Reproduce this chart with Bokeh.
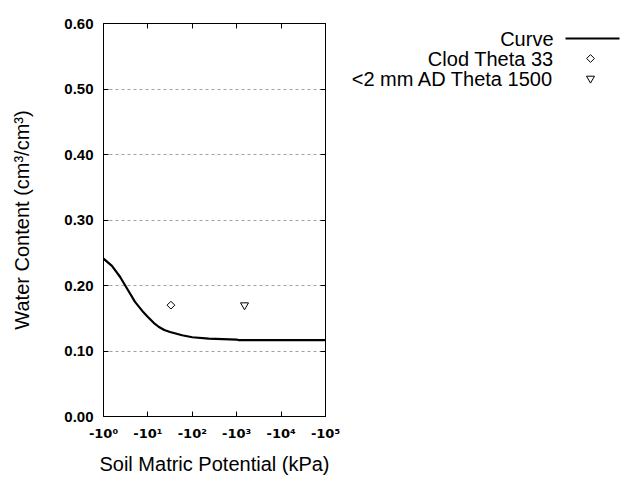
import math
from bokeh.plotting import figure
from bokeh.layouts import row
from bokeh.models import (Range1d, FixedTicker, LinearAxis, LogAxis, NumeralTickFormatter)
from bokeh.core.properties import value
from bokeh.embed import file_html
from bokeh.resources import INLINE

# ---- data ----
curve_h = [1, 1.55, 2.37, 3.63, 5.13, 7.94, 10, 13.5, 17.4, 23.4, 31.6, 58.9, 100, 234, 1000, 1120, 100000]
curve_theta = [0.241, 0.230, 0.213, 0.192, 0.175, 0.159, 0.152, 0.143, 0.137, 0.132, 0.129, 0.124, 0.121, 0.119, 0.1175, 0.1165, 0.1165]
clod_h = [33]
clod_theta = [0.17]
ad_h = [1500]
ad_theta = [0.17]
x_ticks = [1, 10, 100, 1000, 10000, 100000]
x_tick_labels = ["-10\u2070", "-10\u00b9", "-10\u00b2", "-10\u00b3", "-10\u2074", "-10\u2075"]
y_ticks = [0.0, 0.1, 0.2, 0.3, 0.4, 0.5, 0.6]
legend_labels = ["Curve", "Clod Theta 33", "<2 mm AD Theta 1500"]

FONT = "Liberation Sans"

p = figure(width=340, height=480, x_axis_type="log",
           x_range=Range1d(1, 100000), y_range=Range1d(0, 0.6),
           output_backend="svg", toolbar_location=None, title=None,
           min_border_left=103, min_border_right=15,
           min_border_top=23, min_border_bottom=64,
           x_axis_label="Soil Matric Potential (kPa)",
           y_axis_label="Water Content (cm\u00b3/cm\u00b3)")
p.background_fill_color = "white"
p.border_fill_color = "white"
p.outline_line_color = "black"
p.outline_line_width = 1

p.line(curve_h, curve_theta, line_color="black", line_width=2.2)
p.scatter(clod_h, clod_theta, marker="square", angle=math.pi / 4, size=5.5,
          fill_color="white", line_color="black", line_width=1)
p.scatter(ad_h, ad_theta, marker="inverted_triangle", size=8,
          fill_color="white", line_color="black", line_width=1)

xa = p.xaxis[0]
xa.ticker = FixedTicker(ticks=x_ticks, minor_ticks=[])
xa.major_label_overrides = {t: l for t, l in zip(x_ticks, x_tick_labels)}
ya = p.yaxis[0]
ya.ticker = FixedTicker(ticks=y_ticks, minor_ticks=[])
ya.formatter = NumeralTickFormatter(format="0.00")

for ax in (xa, ya):
    ax.major_tick_in = 5
    ax.major_tick_out = 0
    ax.minor_tick_line_color = None
    ax.axis_line_color = "black"
    ax.major_tick_line_color = "black"
    ax.major_label_text_font = FONT
    ax.major_label_text_font_style = "bold"
    ax.major_label_text_font_size = "15px"
    ax.major_label_text_color = "black"
    ax.axis_label_text_font = FONT
    ax.axis_label_text_font_style = "normal"
    ax.axis_label_text_font_size = "20px"
    ax.axis_label_text_color = "black"
xa.major_label_text_font = "DejaVu Sans"
xa.major_label_text_font_size = "13px"
xa.major_label_standoff = 9
xa.axis_label_standoff = 9
ya.major_label_standoff = 10
ya.axis_label_standoff = 28

# mirrored ticks on top and right
top = LogAxis(ticker=FixedTicker(ticks=x_ticks, minor_ticks=[]))
right = LinearAxis(ticker=FixedTicker(ticks=y_ticks, minor_ticks=[]))
for ax in (top, right):
    ax.major_tick_in = 5
    ax.major_tick_out = 0
    ax.minor_tick_line_color = None
    ax.major_label_text_color = None
    ax.major_label_text_font_size = "6px"
    ax.major_label_standoff = 0
    ax.axis_line_color = "black"
p.add_layout(top, "above")
p.add_layout(right, "right")

p.xgrid.grid_line_color = None
p.ygrid.grid_line_color = "#a0a0a0"
p.ygrid.grid_line_dash = "3 3"
p.ygrid.grid_line_width = 1

# ---- legend panel (frame aligned with the chart frame: y 23..416 px) ----
q = figure(width=300, height=480, x_range=Range1d(340, 640), y_range=Range1d(416, 23),
           output_backend="svg", toolbar_location=None, title=None,
           x_axis_location=None, y_axis_location=None,
           min_border_left=0, min_border_right=0,
           min_border_top=23, min_border_bottom=64)
q.outline_line_color = None
q.grid.visible = False
q.background_fill_color = "white"
q.border_fill_color = "white"
rows_y = [38, 58, 78]
q.text(x=[553] * 3, y=rows_y, text=legend_labels, text_align="right",
       text_baseline="middle", text_font=value(FONT), text_font_size="20px",
       text_color="black")
q.line([565, 619], [rows_y[0]] * 2, line_color="black", line_width=2.2)
q.scatter([590], [rows_y[1]], marker="square", angle=math.pi / 4, size=5.5,
          fill_color="white", line_color="black")
q.scatter([590], [rows_y[2]], marker="inverted_triangle", size=8,
          fill_color="white", line_color="black")

layout = row(p, q)
open("out.html", "w").write(file_html(layout, INLINE))
